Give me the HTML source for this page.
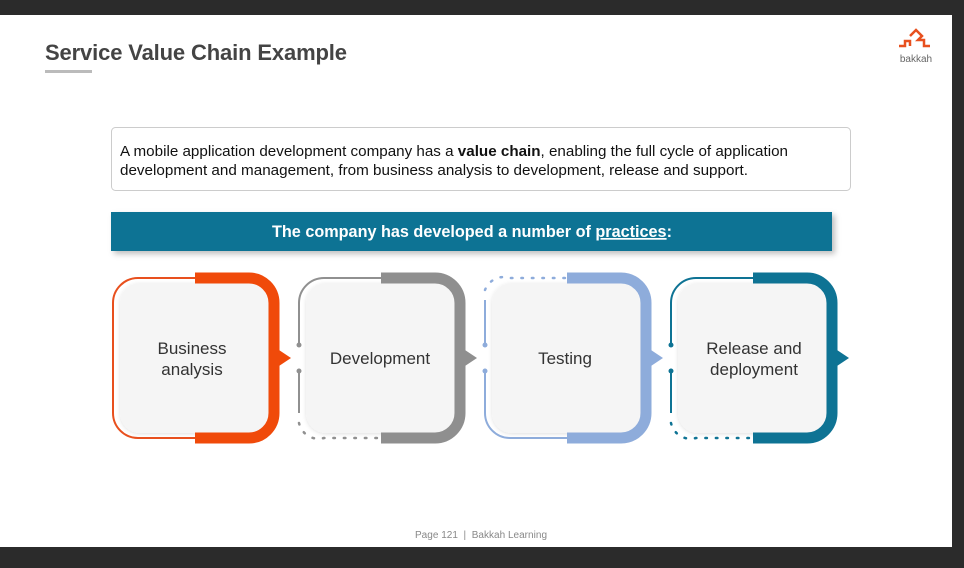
<!DOCTYPE html>
<html><head><meta charset="utf-8"><style>
html,body{margin:0;padding:0;background:#2b2b2b;}
svg{display:block;font-family:"Liberation Sans",sans-serif;}
</style></head><body>
<svg width="964" height="568" viewBox="0 0 964 568" xmlns="http://www.w3.org/2000/svg">
<defs>
<filter id="sh" x="-5%" y="-20%" width="110%" height="150%"><feDropShadow dx="3" dy="3" stdDeviation="3" flood-color="#000" flood-opacity="0.25"/></filter>
<filter id="sh2" x="-10%" y="-10%" width="120%" height="120%"><feDropShadow dx="0" dy="1" stdDeviation="2" flood-color="#000" flood-opacity="0.12"/></filter>
</defs>
<rect x="0" y="15" width="952" height="532" fill="#fff"/>
<text x="45" y="60" font-size="22" font-weight="bold" fill="#444" textLength="302">Service Value Chain Example</text>
<rect x="45" y="70" width="47" height="3" fill="#bbb"/>
<!-- logo -->
<g fill="none" stroke="#e8501e" stroke-width="2.5">
<path d="M899 46 h6 v-5 h5 v5"/><path d="M910 36 l6 -6 l6 6 l-4 4 h6 v6 h6"/>
</g>
<text x="916" y="62" font-size="10" fill="#666" text-anchor="middle">bakkah</text>
<!-- description -->
<rect x="111.5" y="127.5" width="739" height="63" rx="4" fill="#fff" stroke="#ccc"/>
<text x="120" y="156" font-size="15" fill="#111" textLength="668" lengthAdjust="spacingAndGlyphs">A mobile application development company has a <tspan font-weight="bold">value chain</tspan>, enabling the full cycle of application</text>
<text x="120" y="175" font-size="15" fill="#111" textLength="628" lengthAdjust="spacingAndGlyphs">development and management, from business analysis to development, release and support.</text>
<!-- bar -->
<rect x="111" y="212" width="721" height="39" fill="#0e7394" filter="url(#sh)"/>
<text x="472" y="237" font-size="17" font-weight="bold" fill="#fff" text-anchor="middle" textLength="400" lengthAdjust="spacingAndGlyphs">The company has developed a number of <tspan text-decoration="underline">practices</tspan>:</text>

<!-- Box 1 -->
<g>
<rect x="120" y="283" width="148" height="150" rx="20" fill="#f5f5f5" filter="url(#sh2)"/>
<path d="M196 278 H138 A25 25 0 0 0 113 303 V413 A25 25 0 0 0 138 438 H196" fill="none" stroke="#e8501e" stroke-width="2"/>
<path d="M195 278 H249 A25 25 0 0 1 274 303 V413 A25 25 0 0 1 249 438 H195" fill="none" stroke="#f04a0a" stroke-width="11"/>
<path d="M279 350 L291 358 L279 366 Z" fill="#f04a0a"/>
<text x="192" y="354" font-size="17" fill="#333" text-anchor="middle">Business</text>
<text x="192" y="375" font-size="17" fill="#333" text-anchor="middle">analysis</text>
</g>
<!-- Box 2 -->
<g transform="translate(186,0)">
<rect x="120" y="283" width="148" height="150" rx="20" fill="#f5f5f5" filter="url(#sh2)"/>
<path d="M196 278 H138 A25 25 0 0 0 113 303 V344" fill="none" stroke="#909090" stroke-width="2"/>
<path d="M113 372 V413" fill="none" stroke="#909090" stroke-width="2"/>
<circle cx="113" cy="345" r="2.5" fill="#909090"/><circle cx="113" cy="371" r="2.5" fill="#909090"/>
<path d="M113 423 A20 20 0 0 0 138 438 H196" fill="none" stroke="#909090" stroke-width="2.5" stroke-dasharray="1.5 9" stroke-linecap="round"/>
<path d="M195 278 H249 A25 25 0 0 1 274 303 V413 A25 25 0 0 1 249 438 H195" fill="none" stroke="#8f8f8f" stroke-width="11"/>
<path d="M279 350 L291 358 L279 366 Z" fill="#8f8f8f"/>
<text x="194" y="364" font-size="17" fill="#333" text-anchor="middle">Development</text>
</g>
<!-- Box 3 -->
<g transform="translate(372,0)">
<rect x="120" y="283" width="148" height="150" rx="20" fill="#f5f5f5" filter="url(#sh2)"/>
<path d="M113 290 A20 20 0 0 1 138 278 H196" fill="none" stroke="#8eacdb" stroke-width="2.5" stroke-dasharray="1.5 9" stroke-linecap="round"/>
<path d="M113 300 V344" fill="none" stroke="#8eacdb" stroke-width="2"/>
<path d="M113 372 V413 A25 25 0 0 0 138 438 H196" fill="none" stroke="#8eacdb" stroke-width="2"/>
<circle cx="113" cy="345" r="2.5" fill="#8eacdb"/><circle cx="113" cy="371" r="2.5" fill="#8eacdb"/>
<path d="M195 278 H249 A25 25 0 0 1 274 303 V413 A25 25 0 0 1 249 438 H195" fill="none" stroke="#8eacdb" stroke-width="11"/>
<path d="M279 350 L291 358 L279 366 Z" fill="#8eacdb"/>
<text x="193" y="364" font-size="17" fill="#333" text-anchor="middle">Testing</text>
</g>
<!-- Box 4 -->
<g transform="translate(558,0)">
<rect x="120" y="283" width="148" height="150" rx="20" fill="#f5f5f5" filter="url(#sh2)"/>
<path d="M196 278 H138 A25 25 0 0 0 113 303 V344" fill="none" stroke="#0e7394" stroke-width="2"/>
<path d="M113 372 V413" fill="none" stroke="#0e7394" stroke-width="2"/>
<circle cx="113" cy="345" r="2.5" fill="#0e7394"/><circle cx="113" cy="371" r="2.5" fill="#0e7394"/>
<path d="M113 423 A20 20 0 0 0 138 438 H196" fill="none" stroke="#0e7394" stroke-width="2.5" stroke-dasharray="1.5 9" stroke-linecap="round"/>
<path d="M195 278 H249 A25 25 0 0 1 274 303 V413 A25 25 0 0 1 249 438 H195" fill="none" stroke="#0e7394" stroke-width="11"/>
<path d="M279 350 L291 358 L279 366 Z" fill="#0e7394"/>
<text x="196" y="354" font-size="17" fill="#333" text-anchor="middle">Release and</text>
<text x="196" y="375" font-size="17" fill="#333" text-anchor="middle">deployment</text>
</g>
<text x="481" y="538" font-size="10" fill="#888" text-anchor="middle" textLength="132" xml:space="preserve">Page 121  |  Bakkah Learning</text>
</svg>
</body></html>
